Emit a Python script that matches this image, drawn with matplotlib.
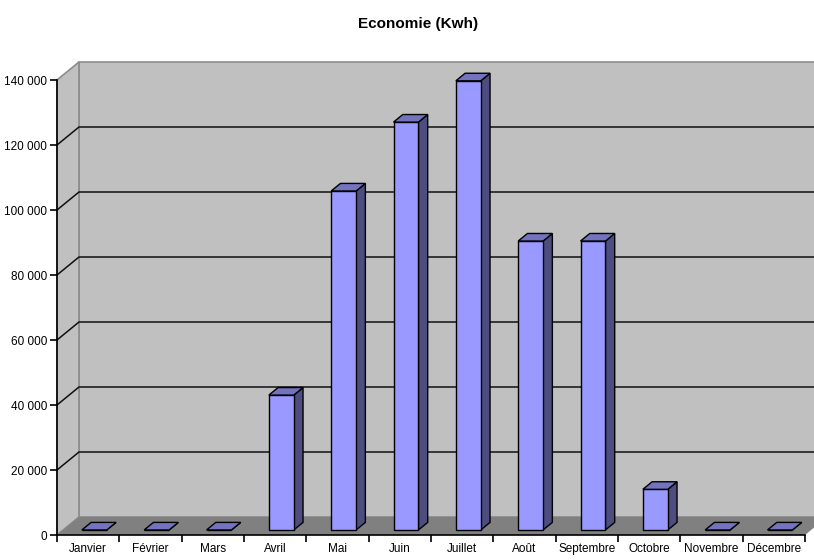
import matplotlib
matplotlib.use("Agg")
import matplotlib.pyplot as plt
from matplotlib import font_manager
from matplotlib.patches import Polygon
from matplotlib.ticker import FuncFormatter

# police étroite si disponible
noms = {f.name for f in font_manager.fontManager.ttflist}
police = 'Liberation Sans Narrow' if 'Liberation Sans Narrow' in noms else 'Liberation Sans'
plt.rcParams['font.family'] = [police, 'DejaVu Sans']

mois = ['Janvier', 'Février', 'Mars', 'Avril', 'Mai', 'Juin', 'Juillet',
        'Août', 'Septembre', 'Octobre', 'Novembre', 'Décembre']
economie = [0, 0, 0, 41500, 104300, 125500, 138200, 88900, 88900, 12500, 0, 0]
graduations = [0, 20000, 40000, 60000, 80000, 100000, 120000, 140000]

# profondeur du pseudo 3D (en unités de données)
DX, DY = 0.353, 5540
f0, f1 = 0.28, 0.70
largeur = 0.40

fig = plt.figure(figsize=(8.14, 5.6), dpi=100)
ax = fig.add_axes([0.07002, 0.04464, 0.91892, 0.8125])
ax.set_xlim(0, 12)
ax.set_ylim(0, 140000)
ax.patch.set_visible(False)
for s in ['top', 'right']:
    ax.spines[s].set_visible(False)
ax.spines['left'].set_linewidth(1.2)
ax.spines['bottom'].set_linewidth(1.2)
ax.spines['left'].set_zorder(10)
ax.spines['bottom'].set_zorder(10)

ymax = graduations[-1]
# mur du fond, mur gauche, sol
ax.add_patch(Polygon([(DX, DY), (12 + DX, DY), (12 + DX, ymax + DY), (DX, ymax + DY)],
                     closed=True, fc='#c0c0c0', ec='#8c8c8c', lw=1.2, clip_on=False, zorder=0))
ax.add_patch(Polygon([(0, 0), (DX, DY), (DX, ymax + DY), (0, ymax)],
                     closed=True, fc='#c0c0c0', ec='#8c8c8c', lw=1.2, clip_on=False, zorder=0))
ax.add_patch(Polygon([(0, 0), (12, 0), (12 + DX, DY), (DX, DY)],
                     closed=True, fc='#808080', ec='none', clip_on=False, zorder=1))

# quadrillage sur le mur du fond
for g in graduations[1:-1]:
    ax.plot([0, DX, 12 + DX], [g, g + DY, g + DY], color='#101010', lw=1.1,
            clip_on=False, zorder=2)

# barres
xs = [i + 0.5 for i in range(len(mois))]
x0 = [x + f0 * DX for x in xs]
ax.bar(x0, economie, width=largeur, bottom=f0 * DY, color='#9999ff',
       edgecolor='black', linewidth=1.0, zorder=4, clip_on=False)
ddx, ddy = (f1 - f0) * DX, (f1 - f0) * DY
for xc, v in zip(x0, economie):
    xl, xr = xc - largeur / 2, xc + largeur / 2
    base = f0 * DY
    haut = v + base
    ax.add_patch(Polygon([(xr, base), (xr + ddx, base + ddy), (xr + ddx, haut + ddy), (xr, haut)],
                         closed=True, fc='#4d4d80', ec='black', lw=1.0, zorder=3, clip_on=False))
    ax.add_patch(Polygon([(xl, haut), (xr, haut), (xr + ddx, haut + ddy), (xl + ddx, haut + ddy)],
                         closed=True, fc='#7373bf', ec='black', lw=1.0, zorder=5, clip_on=False))

ax.set_yticks(graduations)
ax.yaxis.set_major_formatter(FuncFormatter(lambda v, p: f"{int(v):,}".replace(',', ' ')))
ax.set_xticks(range(13))
ax.set_xticklabels([])
ax.set_xticks(xs, minor=True)
ax.set_xticklabels(mois, minor=True)
ax.tick_params(axis='x', which='minor', length=0, pad=6, labelsize=8.5)
ax.tick_params(axis='x', which='major', length=5, width=1.2)
ax.tick_params(axis='y', length=5, width=1.2, labelsize=8.5, pad=2)

fig.text(0.513, 0.958, 'Economie (Kwh)', ha='center', va='center',
         fontsize=11, fontweight='bold')

fig.savefig('out.png', dpi=100)
